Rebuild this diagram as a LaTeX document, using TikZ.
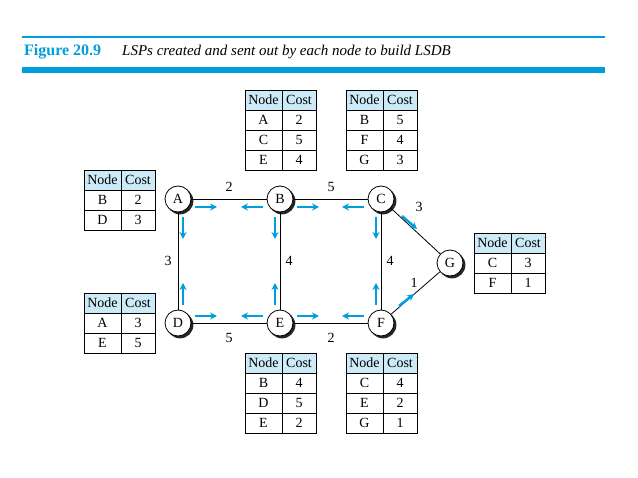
\documentclass[tikz,border=0pt]{standalone}
\usepackage{fontspec}
\setmainfont{Liberation Serif}
\usetikzlibrary{arrows.meta,calc}
\definecolor{fblue}{RGB}{0,158,219}
\definecolor{hblue}{RGB}{205,234,247}
\tikzset{
  rnode/.style={circle,draw,thick,fill=white,minimum size=26pt,inner sep=0pt,font=\fontsize{14}{14}\selectfont},
  shad/.style={fill=black!85},
  link/.style={draw,line width=0.8pt},
  ba/.style={-{Stealth[length=7pt,width=7pt]},fblue,line width=2.4pt},
  cl/.style={font=\fontsize{14}{14}\selectfont},
  tt/.style={font=\fontsize{14}{14}\selectfont,inner sep=0pt}
}
\newcommand\rnd[4]{%
  \fill[shad] (#2+2,#3+2) circle[radius=13.4];
  \node[rnode] (#1) at (#2,#3) {#4};
}
\newcommand\lsptab[8]{% x y r1a r1b r2a r2b r3a r3b
  \fill[hblue] (#1,#2) rectangle ++(71,20);
  \draw[line width=0.7pt] (#1,#2) rectangle ++(71,80);
  \foreach \k in {1,2,3} \draw[line width=0.7pt] (#1,#2+20*\k) -- ++(71,0);
  \draw[line width=0.7pt] (#1+37,#2) -- ++(0,80);
  \node[tt] at (#1+18.5,#2+10) {Node};\node[tt] at (#1+54,#2+10) {Cost};
  \node[tt] at (#1+18.5,#2+30) {#3};\node[tt] at (#1+54,#2+30) {#4};
  \node[tt] at (#1+18.5,#2+50) {#5};\node[tt] at (#1+54,#2+50) {#6};
  \node[tt] at (#1+18.5,#2+70) {#7};\node[tt] at (#1+54,#2+70) {#8};
}
\newcommand\lsptabs[6]{%
  \fill[hblue] (#1,#2) rectangle ++(71,20);
  \draw[line width=0.7pt] (#1,#2) rectangle ++(71,60);
  \foreach \k in {1,2} \draw[line width=0.7pt] (#1,#2+20*\k) -- ++(71,0);
  \draw[line width=0.7pt] (#1+37,#2) -- ++(0,60);
  \node[tt] at (#1+18.5,#2+10) {Node};\node[tt] at (#1+54,#2+10) {Cost};
  \node[tt] at (#1+18.5,#2+30) {#3};\node[tt] at (#1+54,#2+30) {#4};
  \node[tt] at (#1+18.5,#2+50) {#5};\node[tt] at (#1+54,#2+50) {#6};
}
\begin{document}
\begin{tikzpicture}[x=1pt,y=-1pt]
\useasboundingbox (0,0) rectangle (638,478);
% header
\draw[fblue,line width=1.2pt] (22,37) -- (605,37);
\fill[fblue] (22,67) rectangle (605,73);
\node[anchor=west,inner sep=0pt,text=fblue,font=\fontsize{16}{16}\selectfont\bfseries] (fig) at (24,52) {Figure 20.9};
\node[anchor=west,inner sep=0pt,font=\fontsize{15}{15}\selectfont\itshape] (cap) at (122,52) {LSPs created and sent out by each node to build LSDB};
% nodes
\rnd{A}{178}{199}{A}
\rnd{B}{280}{199}{B}
\rnd{C}{381}{199}{C}
\rnd{D}{178}{323}{D}
\rnd{E}{280}{323}{E}
\rnd{F}{381}{323}{F}
\rnd{G}{450}{263}{G}
\draw[link] (A) -- (B); \draw[link] (B) -- (C);
\draw[link] (D) -- (E); \draw[link] (E) -- (F);
\draw[link] (A) -- (D); \draw[link] (B) -- (E); \draw[link] (C) -- (F);
\draw[link] (C) -- (G); \draw[link] (F) -- (G);
% cost labels
\node[cl] at (229,187) {2};
\node[cl] at (331,187) {5};
\node[cl] at (229,338) {5};
\node[cl] at (331,338) {2};
\node[cl] at (168,261) {3};
\node[cl] at (289,261) {4};
\node[cl] at (390,261) {4};
\node[cl] at (419,207) {3};
\node[cl] at (414,283) {1};
% blue arrows
\draw[ba] ($(A)+(17,8)$) -- ++(22,0);
\draw[ba] ($(B)+(-17,8)$) -- ++(-22,0);
\draw[ba] ($(B)+(17,8)$) -- ++(22,0);
\draw[ba] ($(C)+(-17,8)$) -- ++(-22,0);
\draw[ba] ($(D)+(17,-7)$) -- ++(22,0);
\draw[ba] ($(E)+(-17,-7)$) -- ++(-22,0);
\draw[ba] ($(E)+(17,-7)$) -- ++(22,0);
\draw[ba] ($(F)+(-17,-7)$) -- ++(-22,0);
\draw[ba] ($(A)+(5,18)$) -- ++(0,22);
\draw[ba] ($(D)+(5,-18)$) -- ++(0,-22);
\draw[ba] ($(B)+(-5,18)$) -- ++(0,22);
\draw[ba] ($(E)+(-5,-18)$) -- ++(0,-22);
\draw[ba] ($(C)+(-5,18)$) -- ++(0,22);
\draw[ba] ($(F)+(-5,-18)$) -- ++(0,-22);
\draw[ba] ($(C)+(21,17)$) -- ++(15,13);
\draw[ba] ($(F)+(18,-17)$) -- ++(15,-12);
% tables
\lsptabs{84}{170}{B}{2}{D}{3}
\lsptabs{84}{293}{A}{3}{E}{5}
\lsptab{245}{90}{A}{2}{C}{5}{E}{4}
\lsptab{346}{90}{B}{5}{F}{4}{G}{3}
\lsptabs{474}{233}{C}{3}{F}{1}
\lsptab{245}{353}{B}{4}{D}{5}{E}{2}
\lsptab{346}{353}{C}{4}{E}{2}{G}{1}
\end{tikzpicture}
\end{document}
